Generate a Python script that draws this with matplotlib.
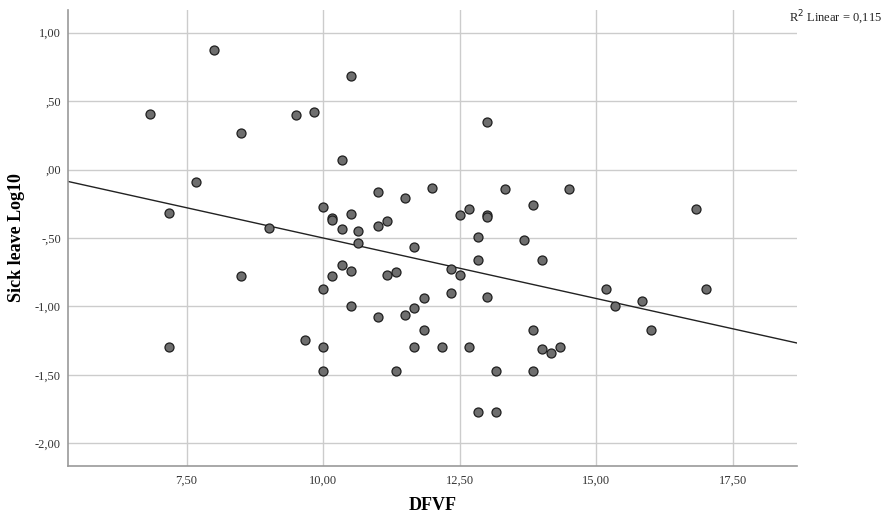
import numpy as np
import matplotlib.pyplot as plt

# DFVF vs log10 sick leave
dfvf = [8.00, 10.50, 6.83, 9.50, 9.83, 8.50, 10.34, 7.67, 7.17, 9.00,
        10.00, 10.17, 10.17, 10.50, 10.34, 10.64, 10.64, 13.00, 11.00, 11.50,
        12.00, 11.00, 11.17, 11.67, 12.51, 12.67, 13.00, 13.00, 13.33, 13.83,
        14.50, 12.84, 13.67, 16.83, 8.50, 10.00, 10.17, 10.34, 10.50, 10.50,
        7.17, 9.67, 10.00, 10.00, 12.84, 14.00, 12.34, 12.51, 11.17, 11.34,
        12.34, 13.00, 11.84, 11.67, 11.00, 11.50, 11.84, 13.83, 11.67, 12.17,
        12.67, 14.00, 14.17, 14.34, 11.34, 13.17, 13.83, 12.84, 13.17, 15.17,
        17.00, 15.34, 15.83, 16.00]
sick_log = [0.877, 0.685, 0.409, 0.402, 0.419, 0.265, 0.071, -0.088, -0.317, -0.429,
            -0.270, -0.351, -0.370, -0.327, -0.431, -0.451, -0.536, 0.349, -0.161, -0.207,
            -0.132, -0.414, -0.378, -0.565, -0.331, -0.287, -0.330, -0.345, -0.141, -0.256,
            -0.141, -0.495, -0.517, -0.285, -0.775, -0.870, -0.775, -0.697, -0.743, -0.997,
            -1.299, -1.243, -1.299, -1.474, -0.660, -0.660, -0.726, -0.772, -0.772, -0.748,
            -0.899, -0.928, -0.941, -1.009, -1.075, -1.065, -1.172, -1.172, -1.300, -1.300,
            -1.300, -1.309, -1.340, -1.300, -1.474, -1.474, -1.474, -1.774, -1.774, -0.870,
            -0.870, -0.997, -0.960, -1.172]

# fit line as drawn in the original
fit_intercept = 0.385
fit_slope = -0.0885
r2_text = 'R$^2$ Linear = 0,115'

xticks = [7.5, 10.0, 12.5, 15.0, 17.5]
xticklabels = ['7,50', '10,00', '12,50', '15,00', '17,50']
yticks = [1.0, 0.5, 0.0, -0.5, -1.0, -1.5, -2.0]
yticklabels = ['1,00', ',50', ',00', '-,50', '-1,00', '-1,50', '-2,00']

plt.rcParams['font.family'] = ['Liberation Serif', 'DejaVu Serif']

fig = plt.figure(figsize=(8.85, 5.15), dpi=100)
ax = fig.add_axes([0.0768, 0.0951, 0.8238, 0.8855])

xlim = (5.33, 18.67)
ax.set_xlim(xlim)
ax.set_ylim(-2.166, 1.166)

ax.grid(True, color='#cccccc', linewidth=1.0)
ax.set_axisbelow(True)

line_x = np.array(xlim)
ax.plot(line_x, fit_intercept + fit_slope * line_x, color='#222222', linewidth=1.0, zorder=2)

ax.scatter(dfvf, sick_log, s=42, color='#6e6e6e', edgecolors='#1e1e1e',
           linewidths=0.9, zorder=3)

ax.set_xticks(xticks)
ax.set_xticklabels(xticklabels)
ax.set_yticks(yticks)
ax.set_yticklabels(yticklabels)
ax.tick_params(length=0, labelsize=9, colors='#333333')
ax.tick_params(axis='y', pad=5)
ax.tick_params(axis='x', pad=6)

for side in ['top', 'right']:
    ax.spines[side].set_visible(False)
for side in ['left', 'bottom']:
    ax.spines[side].set_color('#999999')
    ax.spines[side].set_linewidth(1.2)

ax.set_xlabel('DFVF', fontsize=13, fontweight='bold', va='center')
ax.xaxis.set_label_coords(0.5, -0.086)
ax.set_ylabel('Sick leave Log10', fontsize=13, fontweight='bold', va='center')
ax.yaxis.set_label_coords(-0.07, 0.5)

fig.text(0.997, 0.965, r2_text, ha='right', va='center', fontsize=9, color='#222222')

fig.savefig('out.png', dpi=100)
